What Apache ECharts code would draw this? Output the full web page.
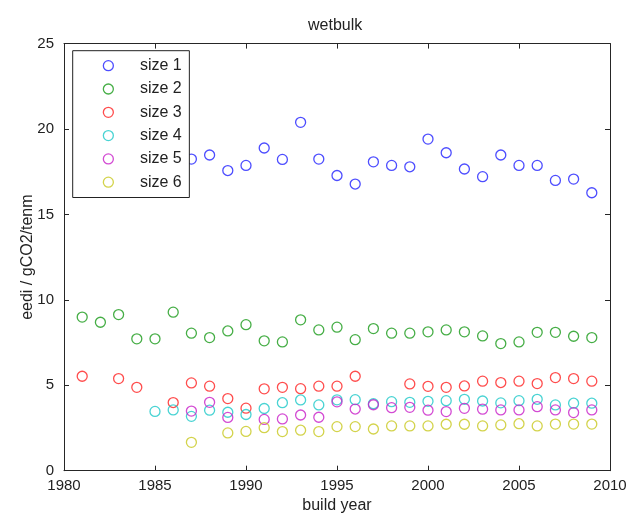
<!DOCTYPE html>
<html>
<head>
<meta charset="utf-8">
<script src="https://cdn.jsdelivr.net/npm/echarts@6/dist/echarts.min.js"></script>
<style>html,body{margin:0;padding:0;background:#fff}#c{width:629px;height:513px}</style>
</head>
<body>
<div id="c"></div>
<script>
var years = [1981,1982,1983,1984,1985,1986,1987,1988,1989,1990,1991,1992,1993,1994,1995,1996,1997,1998,1999,2000,2001,2002,2003,2004,2005,2006,2007,2008,2009];
var size1 = [null,null,null,null,null,null,18.24,18.48,17.57,17.87,18.89,18.22,20.39,18.24,17.28,16.78,18.08,17.87,17.79,19.41,18.61,17.66,17.21,18.48,17.87,17.87,16.99,17.07,16.27];
var size2 = [8.99,8.69,9.14,7.72,7.72,9.28,8.05,7.79,8.18,8.55,7.6,7.54,8.83,8.24,8.40,7.67,8.32,8.05,8.05,8.13,8.24,8.13,7.89,7.44,7.54,8.1,8.1,7.87,7.79];
var size3 = [5.53,null,5.39,4.88,null,3.99,5.14,4.95,4.22,3.66,4.79,4.88,4.8,4.95,4.95,5.53,null,null,5.08,4.94,4.88,4.96,5.24,5.16,5.24,5.1,5.45,5.39,5.24];
var size4 = [null,null,null,null,3.47,3.56,3.18,3.54,3.42,3.29,3.64,3.98,4.14,3.85,4.15,4.16,3.92,4.04,4.0,4.06,4.1,4.18,4.08,3.97,4.1,4.18,3.85,3.95,3.95];
var size5 = [null,null,null,null,null,null,3.49,4.0,3.12,null,3.0,3.03,3.26,3.13,4.03,3.61,3.86,3.69,3.71,3.54,3.46,3.65,3.6,3.56,3.56,3.75,3.56,3.4,3.56];
var size6 = [null,null,null,null,null,null,1.66,null,2.21,2.3,2.52,2.29,2.37,2.29,2.58,2.58,2.44,2.62,2.62,2.62,2.72,2.72,2.62,2.68,2.75,2.62,2.73,2.73,2.73];
var seriesNames = ['size 1','size 2','size 3','size 4','size 5','size 6'];
var seriesValues = [size1,size2,size3,size4,size5,size6];
var colors = ['#2020ff','#189a18','#ff2020','#1cc8c8','#c81ec8','#c8c81e'];
var xTicks = {min:1980,max:2010,interval:5};
var yTicks = {min:0,max:25,interval:5};

var FONT = '"Liberation Sans", Arial, sans-serif';
var axisColor = '#262626';

function pairs(vals){
  var out = [];
  for (var i=0;i<years.length;i++){ if (vals[i]!==null) out.push([years[i], vals[i]]); }
  return out;
}

var series = seriesNames.map(function(n,i){
  return {
    name:n, type:'scatter', xAxisIndex:0, yAxisIndex:0,
    symbol:'circle', symbolSize:10,
    itemStyle:{color:'transparent', borderColor:colors[i], borderWidth:1.3},
    emphasis:{disabled:true},
    data:pairs(seriesValues[i])
  };
});

function baseAxis(extra){
  var a = {
    type:'value',
    axisLine:{show:true,onZero:false,lineStyle:{color:axisColor,width:1}},
    axisTick:{show:true,inside:true,length:5,lineStyle:{color:axisColor}},
    splitLine:{show:false},
    nameMoveOverlap:false
  };
  for (var k in extra) a[k]=extra[k];
  return a;
}

var chart = echarts.init(document.getElementById('c'), null, {renderer:'canvas'});
chart.setOption({
  animation:false,
  backgroundColor:'#fff',
  title:{text:'wetbulk', left:303, top:13, padding:5,
    textStyle:{fontFamily:FONT, fontSize:16, fontWeight:'normal', color:'#222'}},
  grid:{left:64, right:19, top:43.6, bottom:42.3, containLabel:false, outerBoundsMode:'none'},
  legend:{
    orient:'vertical', left:72.7, top:50.7,
    padding:[7,7.6,7.3,30], itemGap:7.3,
    itemWidth:10, itemHeight:10,
    borderColor:'#222', borderWidth:1, backgroundColor:'#fff',
    formatter:function(n){ return '{t|' + n + '}'; },
    textStyle:{fontFamily:FONT, fontSize:16, color:'#222', lineHeight:16,
      rich:{t:{fontFamily:FONT, fontSize:16, color:'#222', lineHeight:16, padding:[0,0,0,21.6]}}},
    data:seriesNames.map(function(n,i){
      return {name:n, icon:'circle', itemStyle:{color:'transparent', borderColor:colors[i], borderWidth:1.3}};
    })
  },
  xAxis:[
    baseAxis({position:'bottom', min:xTicks.min, max:xTicks.max, interval:xTicks.interval,
      name:'build year', nameLocation:'middle', nameGap:27,
      nameTextStyle:{fontFamily:FONT, fontSize:16, color:'#222'},
      axisLabel:{fontFamily:FONT, fontSize:15, color:'#222', margin:8,
        formatter:function(v){ return String(v); }}}),
    baseAxis({position:'top', min:xTicks.min, max:xTicks.max, interval:xTicks.interval,
      axisLabel:{show:false}})
  ],
  yAxis:[
    baseAxis({position:'left', min:yTicks.min, max:yTicks.max, interval:yTicks.interval,
      name:'eedi / gCO2/tenm', nameLocation:'middle', nameGap:28, nameRotate:90,
      nameTextStyle:{fontFamily:FONT, fontSize:16, color:'#222'},
      axisLabel:{fontFamily:FONT, fontSize:15, color:'#222', margin:10}}),
    baseAxis({position:'right', min:yTicks.min, max:yTicks.max, interval:yTicks.interval,
      axisLabel:{show:false}})
  ],
  series:series
});
</script>
</body>
</html>
